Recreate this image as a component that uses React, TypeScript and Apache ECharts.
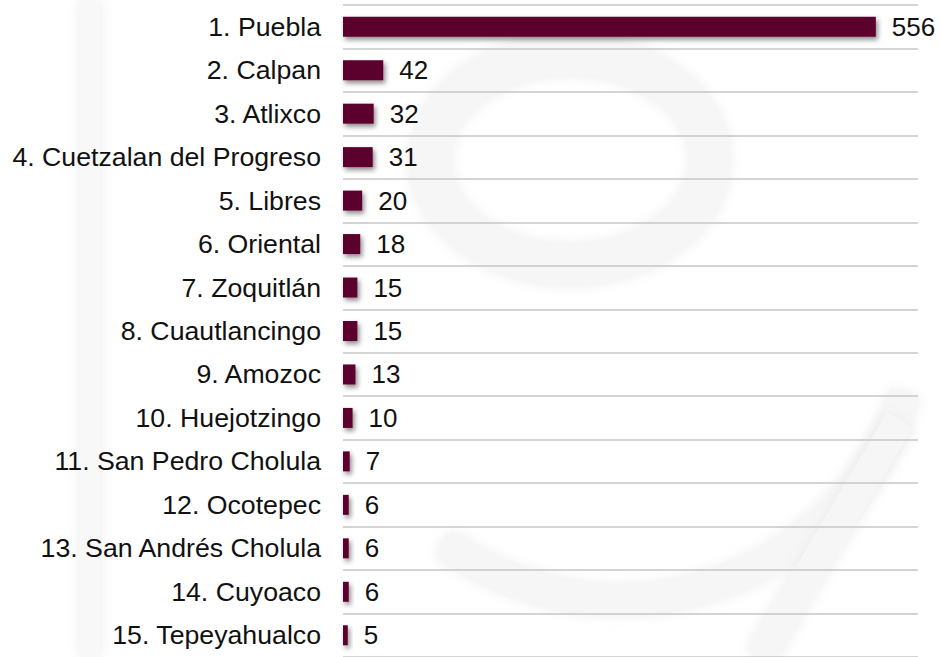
import React, { useEffect, useRef } from "react";
import * as echarts from "echarts";

const categories = [
  "1. Puebla",
  "2. Calpan",
  "3. Atlixco",
  "4. Cuetzalan del Progreso",
  "5. Libres",
  "6. Oriental",
  "7. Zoquitlán",
  "8. Cuautlancingo",
  "9. Amozoc",
  "10. Huejotzingo",
  "11. San Pedro Cholula",
  "12. Ocotepec",
  "13. San Andrés Cholula",
  "14. Cuyoaco",
  "15. Tepeyahualco",
];
const values = [556, 42, 32, 31, 20, 18, 15, 15, 13, 10, 7, 6, 6, 6, 5];
const axisMax = 600;

export default function App() {
  const ref = useRef<HTMLDivElement>(null);
  useEffect(() => {
    document.body.style.margin = "0";
    const chart = echarts.init(ref.current!, null, { renderer: "svg" });
    const wm = "#f6f6f6";
    const soft = { shadowBlur: 14, shadowColor: "rgba(230,230,230,0.8)" };
    chart.setOption({
      animation: false,
      backgroundColor: "#ffffff",
      graphic: [
        {
          type: "group",
          z: -10,
          silent: true,
          children: [
            { type: "ellipse", shape: { cx: 570, cy: 160, rx: 140, ry: 105 }, style: { stroke: wm, lineWidth: 40, fill: "none", ...soft } },
            { type: "arc", shape: { cx: 620, cy: 300, r: 300, startAngle: Math.PI * 0.1, endAngle: Math.PI * 0.7 }, style: { stroke: wm, lineWidth: 30, fill: "none", ...soft } },
            { type: "line", shape: { x1: 760, y1: 657, x2: 900, y2: 420 }, style: { stroke: wm, lineWidth: 30, ...soft } },
            { type: "rect", shape: { x: 80, y: 0, width: 20, height: 657 }, style: { fill: "#f8f8f8", ...soft } },
          ],
        },
      ],
      grid: { left: 343, right: 24, top: 5, height: 657, containLabel: false },
      xAxis: { type: "value", min: 0, max: axisMax, show: false },
      yAxis: {
        type: "category",
        data: categories,
        inverse: true,
        axisLine: { show: false },
        axisTick: { show: false },
        axisLabel: {
          fontSize: 26.7,
          color: "#111111",
          fontFamily: "Liberation Sans, Arial, sans-serif",
          margin: 22,
        },
        splitLine: { show: true, lineStyle: { color: "#c6c6c6", width: 1.5 } },
      },
      series: [
        {
          type: "bar",
          data: values,
          barWidth: 20,
          itemStyle: {
            color: "#5c002e",
            shadowColor: "rgba(0,0,0,0.45)",
            shadowBlur: 5,
            shadowOffsetX: 2,
            shadowOffsetY: 3,
          },
          label: {
            show: true,
            position: "right",
            distance: 16,
            fontSize: 26,
            color: "#111111",
            fontFamily: "Liberation Sans, Arial, sans-serif",
          },
        },
      ],
    });
    return () => chart.dispose();
  }, []);
  return <div ref={ref} style={{ width: 942, height: 657 }} />;
}
